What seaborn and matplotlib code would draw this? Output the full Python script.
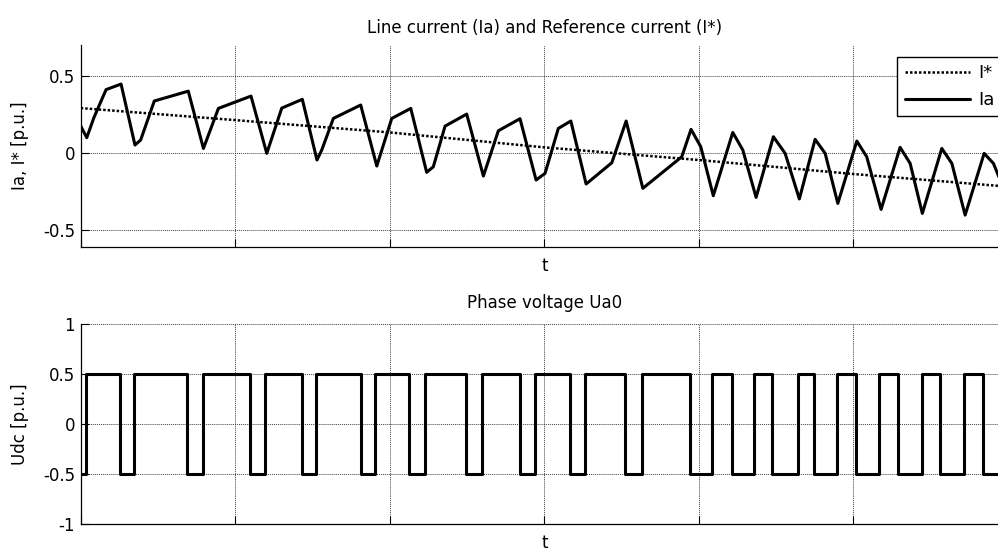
import matplotlib
matplotlib.use("Agg")
import matplotlib.pyplot as plt
import seaborn as sns

# Time axis in grid divisions (0..6), tick labels are left blank
x_grid = [0, 1, 2, 3, 4, 5, 6]

# Line current Ia (p.u.) at its vertices
ia_t = [0.000, 0.039, 0.086, 0.164, 0.261, 0.351, 0.388, 0.476, 0.696, 0.794,
        0.891, 1.102, 1.204, 1.301, 1.434, 1.529, 1.560, 1.635, 1.812, 1.916,
        2.013, 2.136, 2.239, 2.282, 2.358, 2.498, 2.606, 2.703, 2.843, 2.947,
        3.005, 3.091, 3.172, 3.271, 3.437, 3.530, 3.638, 3.890, 3.950, 4.013,
        4.094, 4.220, 4.285, 4.371, 4.483, 4.559, 4.651, 4.753, 4.818, 4.900,
        5.023, 5.087, 5.180, 5.303, 5.368, 5.447, 5.573, 5.638, 5.724, 5.847,
        5.907, 5.960]
ia = [0.173, 0.098, 0.230, 0.410, 0.446, 0.050, 0.083, 0.336, 0.400, 0.028,
      0.288, 0.368, -0.004, 0.290, 0.347, -0.047, 0.018, 0.223, 0.310, -0.086,
      0.223, 0.288, -0.127, -0.091, 0.173, 0.251, -0.151, 0.143, 0.221, -0.177,
      -0.134, 0.158, 0.206, -0.203, -0.065, 0.206, -0.231, -0.026, 0.152, 0.039,
      -0.279, 0.132, 0.018, -0.290, 0.104, -0.004, -0.300, 0.087, -0.004, -0.329,
      0.076, -0.026, -0.368, 0.035, -0.069, -0.394, 0.028, -0.069, -0.405, -0.004,
      -0.069, -0.200]

# Reference current I* (p.u.)
istar_t = [0, 1, 2, 3, 4, 5, 6]
istar = [0.290, 0.212, 0.132, 0.035, -0.047, -0.138, -0.220]

# Phase voltage Ua0 switching instants and levels (p.u.)
u_t = [0.000, 0.032, 0.254, 0.345, 0.690, 0.790, 1.096, 1.193, 1.432, 1.524,
       1.812, 1.905, 2.127, 2.229, 2.494, 2.595, 2.843, 2.940, 3.167, 3.264,
       3.523, 3.631, 3.945, 4.084, 4.214, 4.360, 4.476, 4.641, 4.746, 4.897,
       5.016, 5.169, 5.292, 5.443, 5.562, 5.717, 5.838, 6.000]
u = [-0.5, 0.5, -0.5, 0.5, -0.5, 0.5, -0.5, 0.5, -0.5, 0.5,
     -0.5, 0.5, -0.5, 0.5, -0.5, 0.5, -0.5, 0.5, -0.5, 0.5,
     -0.5, 0.5, -0.5, 0.5, -0.5, 0.5, -0.5, 0.5, -0.5, 0.5,
     -0.5, 0.5, -0.5, 0.5, -0.5, 0.5, -0.5, -0.5]

top_yticks = [-0.5, 0, 0.5]
top_ylabels = ["-0.5", "0", "0.5"]
bot_yticks = [-1, -0.5, 0, 0.5, 1]
bot_ylabels = ["-1", "-0.5", "0", "0.5", "1"]

sns.set_style("white")
plt.rcParams["font.family"] = ["DejaVu Sans"]
plt.rcParams["font.size"] = 12
plt.rcParams["text.color"] = "black"
plt.rcParams["axes.labelcolor"] = "black"
plt.rcParams["xtick.color"] = "black"
plt.rcParams["ytick.color"] = "black"

fig = plt.figure(figsize=(9.98, 5.51), dpi=100)
ax1 = fig.add_axes([0.0809, 0.5523, 0.9289, 0.3661])
ax2 = fig.add_axes([0.0809, 0.0485, 0.9289, 0.3641])

sns.lineplot(x=istar_t, y=istar, ax=ax1, color="black", lw=1.8,
             linestyle=(0, (1, 0.8)), sort=False, estimator=None, legend=False)
sns.lineplot(x=ia_t, y=ia, ax=ax1, color="black", lw=2.2,
             sort=False, estimator=None, legend=False)
sns.lineplot(x=u_t, y=u, ax=ax2, color="black", lw=2.2, drawstyle="steps-post",
             sort=False, estimator=None, legend=False)

for ax in (ax1, ax2):
    ax.set_xlim(0, 6)
    ax.set_xticks(x_grid)
    ax.set_xticklabels([])
    ax.grid(True, color="0.25", linestyle=(0, (1, 1)), lw=0.7)
    ax.set_axisbelow(True)
    for s in ("top", "right"):
        ax.spines[s].set_visible(False)
    for s in ("left", "bottom"):
        ax.spines[s].set_color("black")
        ax.spines[s].set_linewidth(0.9)
    ax.tick_params(direction="in", length=6, width=0.8, colors="black",
                   labelsize=12, pad=4, bottom=True, left=True)
    ax.set_xlabel("t", fontsize=12, color="black")
    ax.xaxis.set_label_coords(0.5, -0.05)

ax1.set_ylim(-0.61, 0.7)
ax1.set_yticks(top_yticks)
ax1.set_yticklabels(top_ylabels)
ax1.set_ylabel("Ia, I* [p.u.]", fontsize=12, color="black")
ax1.yaxis.set_label_coords(-0.056, 0.5)
ax1.set_title("Line current (Ia) and Reference current (I*)", fontsize=12,
              pad=8.6, color="black")

ax2.set_ylim(-1, 1)
ax2.set_yticks(bot_yticks)
ax2.set_yticklabels(bot_ylabels)
ax2.set_ylabel("Udc [p.u.]", fontsize=12, color="black")
ax2.yaxis.set_label_coords(-0.056, 0.5)
ax2.set_title("Phase voltage Ua0", fontsize=12, pad=11, color="black")

lines = ax1.get_lines()
leg = ax1.legend(handles=[lines[0], lines[1]], labels=["I*", "Ia"],
                 loc="upper left", bbox_to_anchor=(897.3 / 998, 1 - 56.7 / 551),
                 bbox_transform=fig.transFigure, borderaxespad=0,
                 fontsize=13, handlelength=3.6, handletextpad=0.5,
                 borderpad=0.4, labelspacing=0.5, fancybox=False,
                 framealpha=1, edgecolor="black")
leg.get_frame().set_linewidth(1.0)
for txt in leg.get_texts():
    txt.set_color("black")

fig.savefig("out.png", dpi=100)
